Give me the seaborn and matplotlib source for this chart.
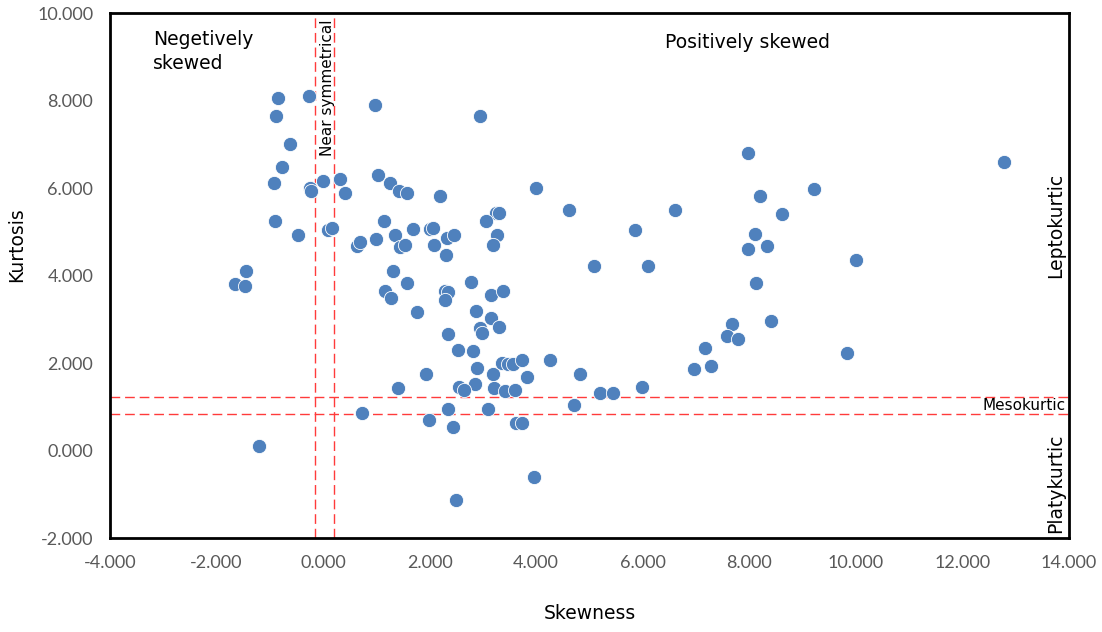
import numpy as np
import pandas as pd
import matplotlib
matplotlib.use('Agg')
import matplotlib.pyplot as plt
import seaborn as sns

# Skewness / kurtosis values
skewness = [
    -0.85, -0.26, 0.97, -0.88, 2.94, -0.63, -0.77, -0.92, -0.25, -0.22,
    0.00, 0.31, 0.42, 1.04, 1.26, 1.42, 1.57, 2.20, -0.90, -0.47,
    0.09, 0.17, 1.14, 1.35, 1.69, 2.01, 2.07, 2.32, 2.46, 0.64,
    0.69, 0.99, 1.44, 1.54, 2.08, 2.30, 4.00, 4.62, 6.60, 7.97,
    8.20, 8.61, 8.10, 7.97, 8.33, 5.85, 5.08, 6.10, 3.24, 3.31,
    3.06, 3.26, 3.19, 2.78, 8.12, -1.45, -1.65, -1.47, 1.32, 1.58,
    1.16, 1.27, 2.29, 2.35, 2.29, 2.87, 1.76, 2.34, 2.53, 2.82,
    2.89, 2.86, 2.56, 2.65, 1.94, 1.41, 2.34, 0.73, 1.99, 2.44,
    -1.20, 2.49, 8.41, 7.68, 7.58, 7.79, 7.17, 7.29, 6.97, 5.99,
    5.20, 5.44, 4.71, 4.82, 4.25, 3.96, 3.16, 3.37, 3.16, 2.94,
    2.99, 3.30, 3.19, 3.35, 3.48, 3.57, 3.73, 3.83, 3.21, 3.41,
    3.61, 3.10, 3.62, 3.73, 12.79, 9.22, 10.00, 9.84,
]
kurtosis = [
    8.06, 8.11, 7.90, 7.66, 7.66, 7.00, 6.49, 6.11, 6.00, 5.93,
    6.17, 6.21, 5.88, 6.30, 6.12, 5.93, 5.88, 5.82, 5.26, 4.94,
    5.04, 5.08, 5.24, 4.94, 5.07, 5.07, 5.09, 4.87, 4.94, 4.68,
    4.76, 4.83, 4.66, 4.70, 4.70, 4.48, 6.01, 5.50, 5.50, 6.81,
    5.82, 5.42, 4.96, 4.60, 4.67, 5.04, 4.22, 4.22, 5.44, 5.44,
    5.25, 4.92, 4.70, 3.86, 3.84, 4.10, 3.82, 3.76, 4.11, 3.84,
    3.65, 3.49, 3.65, 3.63, 3.44, 3.20, 3.17, 2.67, 2.30, 2.27,
    1.89, 1.52, 1.46, 1.38, 1.76, 1.44, 0.96, 0.85, 0.69, 0.53,
    0.10, -1.12, 2.96, 2.89, 2.62, 2.56, 2.35, 1.94, 1.86, 1.46,
    1.31, 1.31, 1.04, 1.76, 2.08, -0.61, 3.55, 3.65, 3.04, 2.81,
    2.69, 2.83, 1.76, 2.01, 1.98, 1.99, 2.08, 1.69, 1.44, 1.37,
    1.38, 0.96, 0.64, 0.64, 6.59, 5.98, 4.35, 2.24,
]

# reference lines
sym_bounds = [-0.16, 0.21]
meso_bounds = [0.83, 1.22]

x_ticks = [-4, -2, 0, 2, 4, 6, 8, 10, 12, 14]
y_ticks = [-2, 0, 2, 4, 6, 8, 10]

df = pd.DataFrame({'Skewness': skewness, 'Kurtosis': kurtosis})

sns.set_style('white')
plt.rcParams['font.family'] = ['DejaVu Sans']
plt.rcParams['text.color'] = 'black'
plt.rcParams['axes.labelcolor'] = 'black'

fig = plt.figure(figsize=(11.02, 6.32), dpi=100)
ax = fig.add_axes([0.0998, 0.1487, 0.8702, 0.8303])

sns.scatterplot(data=df, x='Skewness', y='Kurtosis', ax=ax, s=105,
                color='#4F81BD', edgecolor='white', linewidth=0.6, zorder=3)

red = '#FF3B3B'
for xv in sym_bounds:
    ax.axvline(xv, color=red, lw=1.0, dashes=(7, 3.5), zorder=2)
for yv in meso_bounds:
    ax.axhline(yv, color=red, lw=1.0, dashes=(7, 3.5), zorder=2)

ax.set_xlim(-4, 14)
ax.set_ylim(-2, 10)
ax.set_xticks(x_ticks)
ax.set_yticks(y_ticks)
ax.xaxis.set_major_formatter(matplotlib.ticker.FormatStrFormatter('%.3f'))
ax.yaxis.set_major_formatter(matplotlib.ticker.FormatStrFormatter('%.3f'))
ax.tick_params(axis='both', length=0, labelsize=13, labelcolor='#595959')
ax.tick_params(axis='x', pad=12)
ax.tick_params(axis='y', pad=12)
for lbl in ax.get_xticklabels() + ax.get_yticklabels():
    lbl.set_family(['Lato', 'DejaVu Sans'])

for sp in ax.spines.values():
    sp.set_visible(True)
    sp.set_color('black')
    sp.set_linewidth(2)

ax.set_xlabel('Skewness', fontsize=13.5)
ax.set_ylabel('Kurtosis', fontsize=13.5)
ax.xaxis.set_label_coords(0.5, -0.125)
ax.yaxis.set_label_coords(-0.087, 0.56)

# region annotations
ax.text(-3.19, 9.62, 'Negetively\nskewed', fontsize=13.5, ha='left', va='top',
        linespacing=1.35)
ax.text(6.42, 9.34, 'Positively skewed', fontsize=13.5, ha='left', va='center')
ax.text(0.09, 9.86, 'Near symmetrical', fontsize=11, rotation=90,
        ha='center', va='top')
ax.text(13.75, 5.15, 'Leptokurtic', fontsize=13.5, rotation=90,
        ha='center', va='center')
ax.text(13.93, 1.02, 'Mesokurtic', fontsize=11, ha='right', va='center')
ax.text(13.75, -0.75, 'Platykurtic', fontsize=13.5, rotation=90,
        ha='center', va='center')

plt.savefig('out.png', dpi=100)
plt.close()
